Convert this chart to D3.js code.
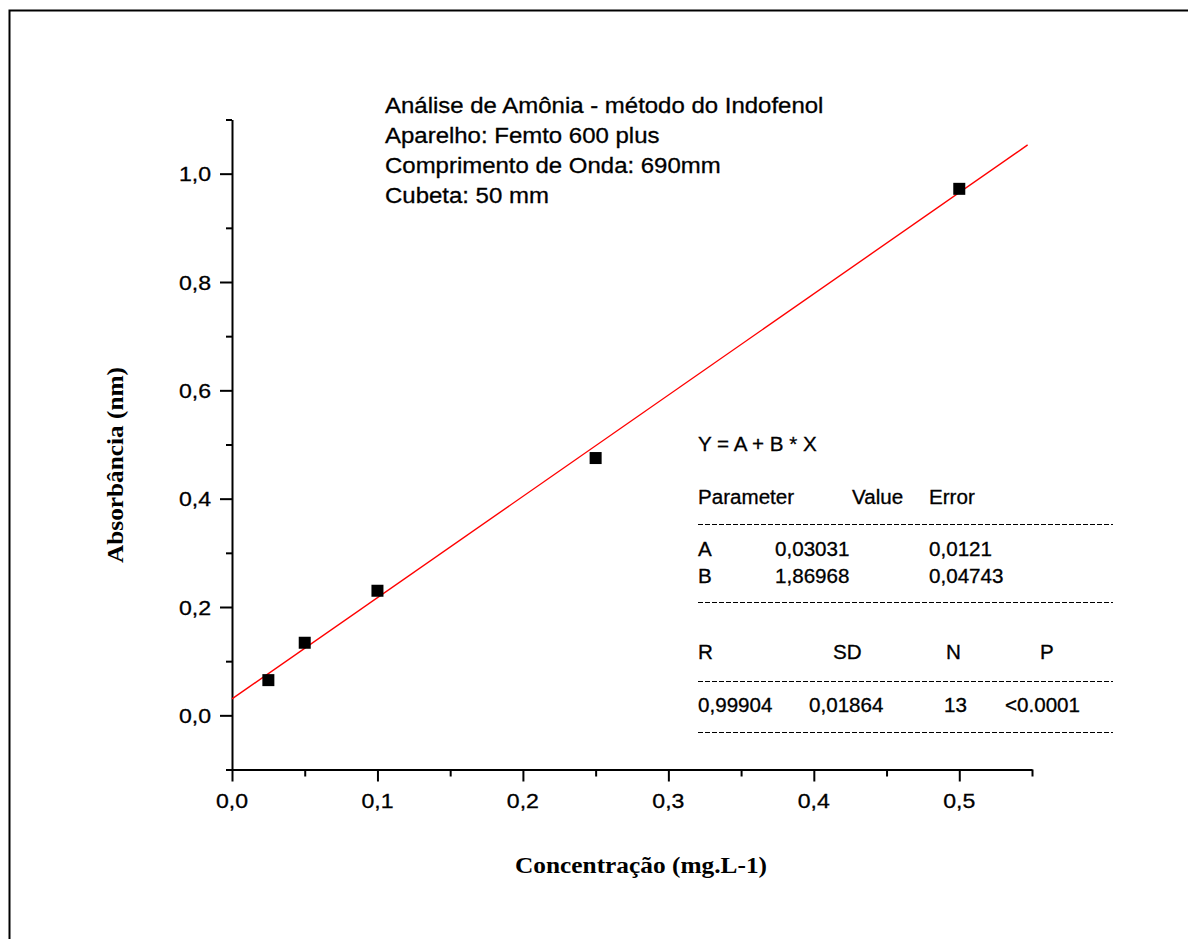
<!DOCTYPE html>
<html>
<head>
<meta charset="utf-8">
<script src="https://cdn.jsdelivr.net/npm/d3@7"></script>
<style>
  html, body { margin: 0; padding: 0; background: #fff; overflow: hidden; }
  svg { display: block; }
  .sans { font-family: "Liberation Sans", Arial, sans-serif; fill: #000; stroke: #000; stroke-width: 0.3; }
  .serif { font-family: "Liberation Serif", "Times New Roman", serif; font-weight: bold; fill: #000; }
</style>
</head>
<body>
<svg id="chart" width="1188" height="939"></svg>
<script>
// Calibration points: ammonia concentration (mg/L) vs absorbance
const concentration = [0.025, 0.05, 0.1, 0.25, 0.5];
const absorbance    = [0.065, 0.134, 0.230, 0.475, 0.972];

// Linear fit Y = A + B * X
const fitA = 0.03031;
const fitB = 1.86968;
const fitRange = [0, 0.547];

// Axis ticks
const xMajor = [0, 0.1, 0.2, 0.3, 0.4, 0.5];
const xMinor = [0.05, 0.15, 0.25, 0.35, 0.45, 0.55];
const yMajor = [0, 0.2, 0.4, 0.6, 0.8, 1.0];
const yMinor = [-0.1, 0.1, 0.3, 0.5, 0.7, 0.9, 1.1];
const xDomain = [0, 0.55];
const yDomain = [-0.1, 1.1];

// Annotation text
const infoLines = [
  "Análise de Amônia - método do Indofenol",
  "Aparelho: Femto 600 plus",
  "Comprimento de Onda: 690mm",
  "Cubeta: 50 mm"
];
const fitEquation = "Y = A + B * X";
const paramHeader = ["Parameter", "Value", "Error"];
const paramRows = [
  ["A", "0,03031", "0,0121"],
  ["B", "1,86968", "0,04743"]
];
const statHeader = ["R", "SD", "N", "P"];
const statValues = ["0,99904", "0,01864", "13", "<0.0001"];

const xTitle = "Concentração (mg.L-1)";
const yTitle = "Absorbância (nm)";

const svg = d3.select("#chart");

// Page frame (left and top edges)
svg.append("path")
  .attr("d", "M9.5,960 V10.5 H1200")
  .attr("fill", "none").attr("stroke", "#000").attr("stroke-width", 2);

const x = d3.scaleLinear().domain(xDomain).range([232, 1032]);
const y = d3.scaleLinear().domain(yDomain).range([769.5, 119.5]);

const comma = v => d3.format(".1f")(v).replace(".", ",");

// Axes: major and minor ticks
function styleAxis(g) {
  g.select(".domain").attr("stroke-width", 2);
  g.selectAll(".tick line").attr("stroke-width", 2);
  g.selectAll("text").remove();
}
svg.append("g").attr("transform", `translate(0,${y(-0.1)})`)
  .call(d3.axisBottom(x).tickValues(xMinor).tickSize(7).tickSizeOuter(0))
  .call(styleAxis).select(".domain").remove();
svg.append("g").attr("transform", `translate(0,${y(-0.1)})`)
  .call(d3.axisBottom(x).tickValues(xMajor).tickSize(12).tickSizeOuter(0))
  .call(styleAxis);
svg.append("g").attr("transform", `translate(${x(0)},0)`)
  .call(d3.axisLeft(y).tickValues(yMinor).tickSize(6).tickSizeOuter(0))
  .call(styleAxis).select(".domain").remove();
svg.append("g").attr("transform", `translate(${x(0)},0)`)
  .call(d3.axisLeft(y).tickValues(yMajor).tickSize(12).tickSizeOuter(0))
  .call(styleAxis);

// Tick labels
svg.append("g").selectAll("text").data(xMajor).join("text")
  .attr("class", "sans")
  .attr("font-size", 21)
  .attr("text-anchor", "middle")
  .attr("transform", d => `translate(${x(d)},${y(-0.1) + 38}) scale(1.1,1)`)
  .text(comma);
svg.append("g").selectAll("text").data(yMajor).join("text")
  .attr("class", "sans")
  .attr("font-size", 21)
  .attr("text-anchor", "end")
  .attr("transform", d => `translate(${x(0) - 21},${y(d) + 7.5}) scale(1.1,1)`)
  .text(comma);

// Axis titles
svg.append("text").attr("class", "serif")
  .attr("font-size", 23)
  .attr("text-anchor", "middle")
  .attr("x", 641).attr("y", 873)
  .attr("textLength", 252).attr("lengthAdjust", "spacingAndGlyphs")
  .text(xTitle);
svg.append("text").attr("class", "serif")
  .attr("font-size", 24)
  .attr("text-anchor", "middle")
  .attr("transform", "translate(123,465) rotate(-90)")
  .attr("textLength", 196).attr("lengthAdjust", "spacingAndGlyphs")
  .text(yTitle);

// Fitted line
const line = d3.line().x(d => x(d)).y(d => y(fitA + fitB * d));
svg.append("path").datum(fitRange)
  .attr("d", line)
  .attr("fill", "none").attr("stroke", "#ff0000").attr("stroke-width", 1.4);

// Data markers
const sq = 12;
svg.append("g").selectAll("rect")
  .data(concentration.map((c, i) => [c, absorbance[i]]))
  .join("rect")
  .attr("x", d => x(d[0]) - sq / 2)
  .attr("y", d => y(d[1]) - sq / 2)
  .attr("width", sq).attr("height", sq)
  .attr("fill", "#000");

// Method info block
svg.append("g").selectAll("text").data(infoLines).join("text")
  .attr("class", "sans")
  .attr("font-size", 22)
  .attr("transform", (d, i) => `translate(385,${113 + i * 30}) scale(1.09,1)`)
  .text(d => d);

// Fit results table
const tbl = svg.append("g");
function cell(txt, tx, ty) {
  tbl.append("text")
    .attr("class", "sans")
    .attr("font-size", 20)
    .attr("transform", `translate(${tx},${ty}) scale(1.03,1)`)
    .text(txt);
}
function rule(ty) {
  tbl.append("line")
    .attr("x1", 698).attr("x2", 1113)
    .attr("y1", ty).attr("y2", ty)
    .attr("stroke", "#000").attr("stroke-width", 1)
    .attr("stroke-dasharray", "5,2");
}
cell(fitEquation, 698, 451);
const paramX = [698, 852, 929];
paramHeader.forEach((t, i) => cell(t, paramX[i], 504));
rule(524.5);
const valueX = [698, 775, 929];
paramRows.forEach((row, r) => row.forEach((t, i) => cell(t, valueX[i], 556 + r * 26.5)));
rule(602.5);
const statHeadX = [698, 833, 946, 1040];
statHeader.forEach((t, i) => cell(t, statHeadX[i], 659));
rule(681.5);
const statValX = [698, 809, 944, 1005];
statValues.forEach((t, i) => cell(t, statValX[i], 712));
rule(732.5);
</script>
</body>
</html>
